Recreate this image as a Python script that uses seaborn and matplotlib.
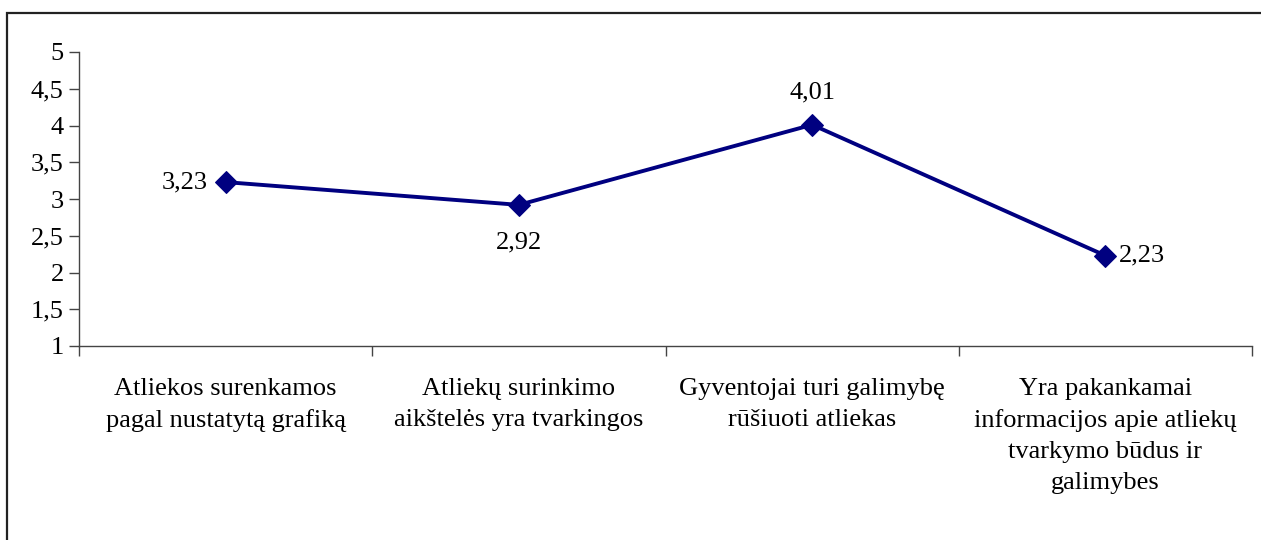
import matplotlib
matplotlib.use("Agg")
import matplotlib.pyplot as plt
import seaborn as sns
import pandas as pd
from matplotlib.patches import Rectangle
from matplotlib.ticker import FixedLocator, FuncFormatter

sns.set_style("white", {"text.color": "black", "xtick.color": "black",
                        "ytick.color": "black"})
plt.rcParams['font.family'] = ['Liberation Serif', 'DejaVu Serif']

categories = [
    "Atliekos surenkamos\npagal nustatytą grafiką",
    "Atliekų surinkimo\naikštelės yra tvarkingos",
    "Gyventojai turi galimybę\nrūšiuoti atliekas",
    "Yra pakankamai\ninformacijos apie atliekų\ntvarkymo būdus ir\ngalimybes",
]
values = [3.23, 2.92, 4.01, 2.23]
value_labels = ["3,23", "2,92", "4,01", "2,23"]
y_ticks = [1, 1.5, 2, 2.5, 3, 3.5, 4, 4.5, 5]

df = pd.DataFrame({"cat": range(len(categories)), "val": values})

fig = plt.figure(figsize=(12.61, 5.40), dpi=100)
ax = fig.add_axes([79 / 1261, 1 - 346 / 540, (1252 - 79) / 1261, (346 - 52) / 540])

sns.lineplot(data=df, x="cat", y="val", ax=ax, color="#000080", linewidth=2.8,
             marker="D", markersize=11, markeredgecolor="#000080")

ax.set_xlim(-0.5, len(categories) - 0.5)
ax.set_ylim(1, 5)
ax.set_yticks(y_ticks)
ax.yaxis.set_major_formatter(FuncFormatter(lambda v, _: f"{v:g}".replace(".", ",")))
ax.tick_params(axis="y", direction="out", length=7, width=1, color="#444444",
               labelcolor="black", labelsize=19, pad=4, left=True)

# category boundaries as ticks, labels on minor ticks at centres
ax.xaxis.set_major_locator(FixedLocator([i - 0.5 for i in range(len(categories) + 1)]))
ax.xaxis.set_major_formatter(FuncFormatter(lambda v, _: ""))
ax.xaxis.set_minor_locator(FixedLocator(list(range(len(categories)))))
ax.set_xticklabels(categories, minor=True, fontsize=19, linespacing=1.53, va="top",
                   color="black")
ax.tick_params(axis="x", which="minor", length=0, pad=23)
ax.tick_params(axis="x", which="major", direction="out", length=7, width=1,
               color="#444444", bottom=True)

ax.set_xlabel("")
ax.set_ylabel("")
for s in ["top", "right"]:
    ax.spines[s].set_visible(False)
for s in ["left", "bottom"]:
    ax.spines[s].set_color("#444444")
    ax.spines[s].set_linewidth(1)

# data labels
offsets = [(-13, 0, "right", "center"), (0, -19, "center", "top"),
           (0, 15, "center", "bottom"), (10, 0, "left", "center")]
for i, (v, lab) in enumerate(zip(values, value_labels)):
    dx, dy, ha, va = offsets[i]
    ax.annotate(lab, (i, v), xytext=(dx, dy), textcoords="offset points",
                ha=ha, va=va, fontsize=19, color="black")

# outer frame
fig.patches.append(Rectangle((7 / 1261, -0.1), 1.2, 1 - 13 / 540 + 0.1,
                             transform=fig.transFigure, fill=False,
                             edgecolor="#222222", linewidth=1.6))

fig.savefig("out.png", dpi=100)
